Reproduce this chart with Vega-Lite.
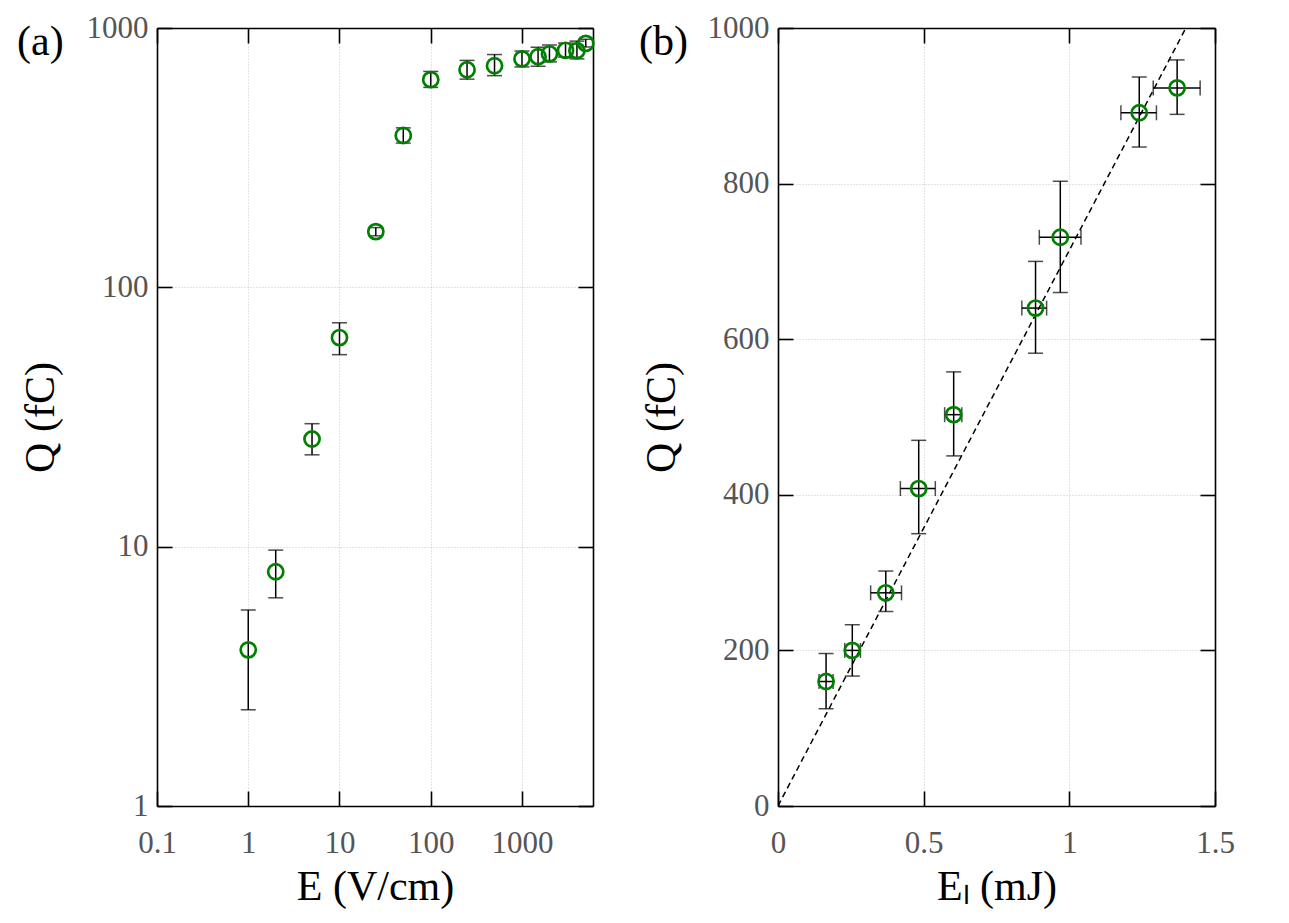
{
  "$schema": "https://vega.github.io/schema/vega-lite/v6.json",
  "background": "white",
  "padding": {"left": 17, "top": 12, "right": 5, "bottom": 5},
  "config": {
    "view": {"stroke": null},
    "font": "Liberation Serif",
    "axis": {
      "labelFont": "Liberation Serif", "labelFontSize": 31, "labelColor": "#555555",
      "titleFont": "Liberation Serif", "titleFontSize": 42, "titleFontWeight": "normal", "titleColor": "black",
      "domainColor": "black", "domainWidth": 1.6, "tickColor": "black", "tickWidth": 1.6, "tickSize": -15,
      "gridColor": "#bbbbbb", "gridDash": [1, 2], "gridWidth": 0.8,
      "labelFlush": false, "labelOverlap": false
    },
    "title": {"font": "Liberation Serif", "fontSize": 42, "fontWeight": "normal", "color": "black"}
  },
  "datasets": {
    "a": [
      {"E": 1, "Q": 4, "lo": 2.35, "hi": 5.7},
      {"E": 2, "Q": 8, "lo": 6.35, "hi": 9.7},
      {"E": 5, "Q": 26, "lo": 22.6, "hi": 29.8},
      {"E": 10, "Q": 64, "lo": 55, "hi": 73},
      {"E": 25, "Q": 164, "lo": 158, "hi": 170},
      {"E": 50, "Q": 385, "lo": 360, "hi": 412},
      {"E": 100, "Q": 632, "lo": 590, "hi": 680},
      {"E": 250, "Q": 690, "lo": 635, "hi": 750},
      {"E": 500, "Q": 715, "lo": 655, "hi": 790},
      {"E": 1000, "Q": 760, "lo": 708, "hi": 815},
      {"E": 1500, "Q": 775, "lo": 712, "hi": 843},
      {"E": 2000, "Q": 795, "lo": 740, "hi": 860},
      {"E": 3000, "Q": 820, "lo": 772, "hi": 875},
      {"E": 4000, "Q": 818, "lo": 760, "hi": 890},
      {"E": 5000, "Q": 872, "lo": 845, "hi": 905}
    ],
    "b": [
      {"El": 0.165, "Elo": 0.141, "Ehi": 0.189, "Q": 160, "Qlo": 125, "Qhi": 196},
      {"El": 0.255, "Elo": 0.229, "Ehi": 0.283, "Q": 200, "Qlo": 167, "Qhi": 233},
      {"El": 0.37, "Elo": 0.318, "Ehi": 0.424, "Q": 274, "Qlo": 250, "Qhi": 302},
      {"El": 0.483, "Elo": 0.42, "Ehi": 0.54, "Q": 408, "Qlo": 350, "Qhi": 470},
      {"El": 0.603, "Elo": 0.572, "Ehi": 0.631, "Q": 503, "Qlo": 450, "Qhi": 558},
      {"El": 0.884, "Elo": 0.837, "Ehi": 0.922, "Q": 640, "Qlo": 582, "Qhi": 700},
      {"El": 0.969, "Elo": 0.897, "Ehi": 1.04, "Q": 731, "Qlo": 660, "Qhi": 803},
      {"El": 1.24, "Elo": 1.177, "Ehi": 1.299, "Q": 891, "Qlo": 847, "Qhi": 937},
      {"El": 1.37, "Elo": 1.288, "Ehi": 1.449, "Q": 923, "Qlo": 889, "Qhi": 959}
    ],
    "fit": [
      {"El": 0, "Q": 0},
      {"El": 1.4, "Q": 1000}
    ]
  },
  "hconcat": [
    {
      "width": 436,
      "height": 778,
      "title": {"text": "(a)", "anchor": "start", "frame": "bounds", "baseline": "top", "offset": -52, "dx": -2},
      "data": {"name": "a"},
      "layer": [
        {
          "mark": {"type": "rule", "color": "black", "strokeWidth": 1.5},
          "encoding": {
            "x": {"field": "E", "type": "quantitative",
              "scale": {"type": "log", "domain": [0.1, 6000], "nice": false},
              "axis": {"orient": "bottom", "values": [0.1, 1, 10, 100, 1000], "format": "~g", "title": "E (V/cm)", "labelPadding": 37, "titlePadding": 8, "grid": true}},
            "y": {"field": "lo", "type": "quantitative",
              "scale": {"type": "log", "domain": [1, 1000], "nice": false},
              "axis": {"orient": "left", "values": [1, 10, 100, 1000], "format": "~g", "title": "Q (fC)", "labelPadding": 24, "titlePadding": 24, "grid": true}},
            "y2": {"field": "hi"}
          }
        },
        {
          "mark": {"type": "tick", "orient": "horizontal", "color": "black", "size": 15, "thickness": 1.5},
          "encoding": {
            "x": {"field": "E", "type": "quantitative", "axis": null},
            "y": {"field": "lo", "type": "quantitative", "axis": null}
          }
        },
        {
          "mark": {"type": "tick", "orient": "horizontal", "color": "black", "size": 15, "thickness": 1.5},
          "encoding": {
            "x": {"field": "E", "type": "quantitative", "axis": null},
            "y": {"field": "hi", "type": "quantitative", "axis": null}
          }
        },
        {
          "mark": {"type": "point", "shape": "circle", "filled": false, "color": "#008000", "size": 230, "strokeWidth": 2.7, "opacity": 1},
          "encoding": {
            "x": {"field": "E", "type": "quantitative",
              "axis": {"orient": "top", "values": [0.1, 1, 10, 100, 1000], "labels": false, "title": null, "grid": false}},
            "y": {"field": "Q", "type": "quantitative",
              "axis": {"orient": "right", "values": [1, 10, 100, 1000], "labels": false, "title": null, "grid": false}}
          }
        }
      ],
      "resolve": {"axis": {"x": "independent", "y": "independent"}}
    },
    {
      "width": 437,
      "height": 778,
      "title": {"text": "(b)", "anchor": "start", "frame": "bounds", "baseline": "top", "offset": -52, "dx": -1},
      "layer": [
        {
          "data": {"name": "fit"},
          "mark": {"type": "line", "color": "black", "strokeWidth": 1.5, "strokeDash": [6, 4], "clip": true},
          "encoding": {
            "x": {"field": "El", "type": "quantitative",
              "scale": {"domain": [0, 1.5], "nice": false, "zero": false},
              "axis": {"orient": "bottom", "values": [0, 0.5, 1, 1.5], "format": "~g", "title": "Eₗ (mJ)", "labelPadding": 37, "titlePadding": 8, "grid": true}},
            "y": {"field": "Q", "type": "quantitative",
              "scale": {"domain": [0, 1000], "nice": false},
              "axis": {"orient": "left", "values": [0, 200, 400, 600, 800, 1000], "format": "d", "title": "Q (fC)", "labelPadding": 24, "titlePadding": 24, "grid": true}}
          }
        },
        {
          "data": {"name": "b"},
          "mark": {"type": "rule", "color": "black", "strokeWidth": 1.5},
          "encoding": {
            "x": {"field": "El", "type": "quantitative", "axis": null},
            "y": {"field": "Qlo", "type": "quantitative", "axis": null},
            "y2": {"field": "Qhi"}
          }
        },
        {
          "data": {"name": "b"},
          "mark": {"type": "rule", "color": "black", "strokeWidth": 1.5},
          "encoding": {
            "x": {"field": "Elo", "type": "quantitative", "axis": null},
            "x2": {"field": "Ehi"},
            "y": {"field": "Q", "type": "quantitative", "axis": null}
          }
        },
        {
          "data": {"name": "b"},
          "mark": {"type": "tick", "orient": "horizontal", "color": "black", "size": 15, "thickness": 1.5},
          "encoding": {
            "x": {"field": "El", "type": "quantitative", "axis": null},
            "y": {"field": "Qlo", "type": "quantitative", "axis": null}
          }
        },
        {
          "data": {"name": "b"},
          "mark": {"type": "tick", "orient": "horizontal", "color": "black", "size": 15, "thickness": 1.5},
          "encoding": {
            "x": {"field": "El", "type": "quantitative", "axis": null},
            "y": {"field": "Qhi", "type": "quantitative", "axis": null}
          }
        },
        {
          "data": {"name": "b"},
          "mark": {"type": "tick", "orient": "vertical", "color": "black", "size": 15, "thickness": 1.5},
          "encoding": {
            "x": {"field": "Elo", "type": "quantitative", "axis": null},
            "y": {"field": "Q", "type": "quantitative", "axis": null}
          }
        },
        {
          "data": {"name": "b"},
          "mark": {"type": "tick", "orient": "vertical", "color": "black", "size": 15, "thickness": 1.5},
          "encoding": {
            "x": {"field": "Ehi", "type": "quantitative", "axis": null},
            "y": {"field": "Q", "type": "quantitative", "axis": null}
          }
        },
        {
          "data": {"name": "b"},
          "mark": {"type": "point", "shape": "circle", "filled": false, "color": "#008000", "size": 230, "strokeWidth": 2.7, "opacity": 1},
          "encoding": {
            "x": {"field": "El", "type": "quantitative",
              "axis": {"orient": "top", "values": [0, 0.5, 1, 1.5], "labels": false, "title": null, "grid": false}},
            "y": {"field": "Q", "type": "quantitative",
              "axis": {"orient": "right", "values": [0, 200, 400, 600, 800, 1000], "labels": false, "title": null, "grid": false}}
          }
        }
      ],
      "resolve": {"axis": {"x": "independent", "y": "independent"}}
    }
  ],
  "bounds": "flush",
  "spacing": 185
}
